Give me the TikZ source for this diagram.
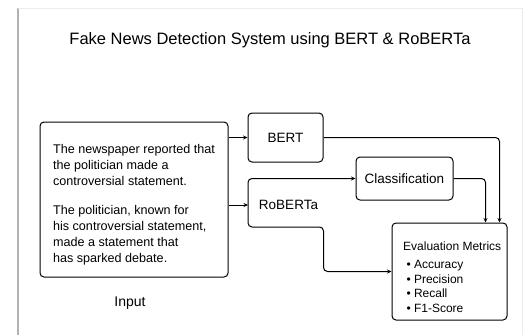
\documentclass[tikz,border=0pt]{standalone}
\usepackage{fontspec}
\setmainfont{Liberation Sans}
\usetikzlibrary{positioning,arrows.meta}
\begin{document}
\begin{tikzpicture}[x=1pt,y=-1pt,
    box/.style={draw,rounded corners=4pt,line width=1pt,inner sep=0pt},
    link/.style={-{Stealth[length=4.5pt,width=4pt]},line width=1pt,rounded corners=4pt}]
    \useasboundingbox(0,0)rectangle(530,335);
    \draw[gray!60,line width=1.2pt](18,8)--(18,335);
    \draw[gray!15](18,8)--(522,8)--(522,335);
    \node(title)at(270,40){\fontsize{16.5}{19}\selectfont Fake News Detection System using BERT \& RoBERTa};
    % input text
    \node[box,minimum width=188,minimum height=155,align=left,font=\fontsize{12.6}{16}\selectfont](input)at(134,199.5){\rule{0pt}{19pt}The newspaper reported that\\the politician made a\\controversial statement.\\[13pt]The politician, known for\\his controversial statement,\\made a statement that\\has sparked debate.};
    \node[font=\fontsize{14}{16}\selectfont](inlabel)at(130,303){Input};
    % models
    \node[box,minimum width=75,minimum height=49,font=\fontsize{13.5}{16}\selectfont](bert)at(285.5,137.5){BERT};
    \node[font=\fontsize{13.5}{16}\selectfont](roberta)at(288.5,205){RoBERTa};
    \coordinate(rob)at(248,205);
    \node[box,minimum width=97,minimum height=43,font=\fontsize{13.5}{16}\selectfont](cls)at(404.5,178.5){Classification};
    \node[box,minimum width=115,minimum height=97](eval)at(449.5,271.5){};
    \node[anchor=north west,align=left,inner sep=0pt,font=\fontsize{12}{14.4}\selectfont](metrics)at(403,242){Evaluation Metrics\\[3.5pt]~• Accuracy\\~• Precision\\~• Recall\\~• F1-Score};
    % connectors
    \draw[link](input.east|-bert)--(bert);
    \draw[link](input.east|-rob)--(rob);
    \draw[link](rob)--(rob|-cls.west)--(cls.west);
    \draw[link](rob)--++(0,22)-|(bert.east|-eval.west)--(eval.west);
    \draw[link](bert.east)-|([xshift=-8pt]eval.north east);
    \draw[link](cls.east)-|([xshift=-22pt]eval.north east);
\end{tikzpicture}
\end{document}
